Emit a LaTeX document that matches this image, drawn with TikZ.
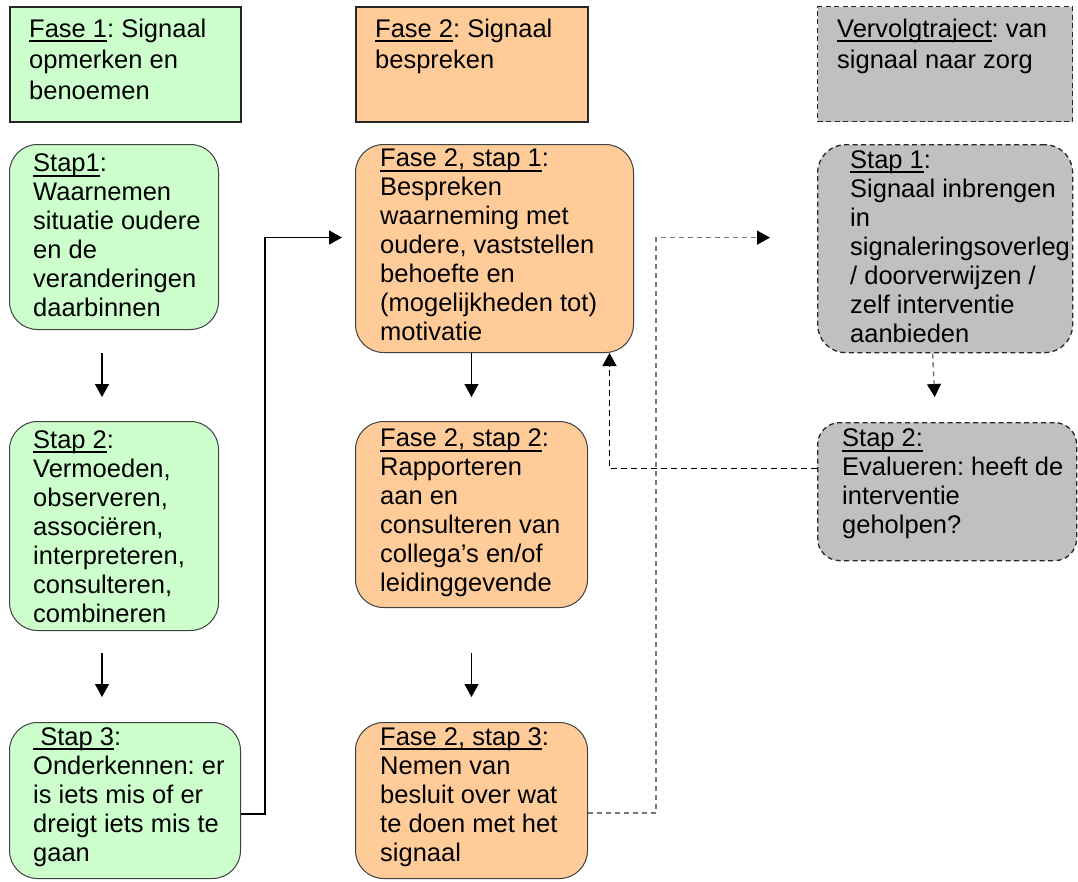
\documentclass[tikz,border=0pt]{standalone}
\usepackage{fontspec}
\setmainfont{Liberation Sans}
\usetikzlibrary{arrows.meta}
\frenchspacing
\definecolor{grn}{HTML}{CCFFCC}
\definecolor{org}{HTML}{FFCC99}
\definecolor{gry}{HTML}{C0C0C0}
\definecolor{dgry}{HTML}{777777}
\newsavebox\ulbox
\newcommand{\uline}[1]{\leavevmode\sbox\ulbox{#1}\rlap{\rule[-5pt]{\wd\ulbox}{1.6pt}}\usebox\ulbox}
\newcommand{\hdrtext}[2]{\parbox[t]{#1}{\fontsize{25.5}{31}\selectfont\raggedright\frenchspacing #2}}
\newcommand{\steptext}[2]{\parbox[t]{#1}{\fontsize{25.5}{29}\selectfont\raggedright\frenchspacing #2}}
\tikzset{
  hdr/.style={draw=black!85, line width=1.5pt, rectangle, inner sep=0pt, anchor=north west},
  stepbox/.style={draw=black!75, line width=1pt, rectangle, rounded corners=28pt, inner sep=0pt, anchor=north west},
  dbox/.style={draw=black!85, line width=1.3pt, dash pattern=on 5pt off 3.5pt},
  txt/.style={anchor=base west, inner sep=0pt, text=black},
  arr/.style={line width=1.4pt, -{Triangle[length=13pt,width=14pt]}},
  garr/.style={line width=1.4pt, draw=dgry, dash pattern=on 5pt off 4pt, -{Triangle[length=13pt,width=14pt,color=black]}},
  barr/.style={line width=1.4pt, draw=black, dash pattern=on 6pt off 4pt, -{Triangle[length=13pt,width=14pt]}}
}
\begin{document}
\begin{tikzpicture}[x=1pt,y=-1pt]
\useasboundingbox (0,0) rectangle (1078,881);
% header boxes
\node[hdr, fill=grn, minimum width=231pt, minimum height=115pt] (h1) at (9,6) {};
\node[hdr, fill=org, minimum width=232pt, minimum height=115pt] (h2) at (355,6) {};
\node[hdr, dbox, fill=gry, minimum width=255pt, minimum height=115pt] (h3) at (817,6) {};
% step boxes
\node[stepbox, fill=grn, minimum width=209pt, minimum height=185pt] (s1) at (9,144) {};
\node[stepbox, fill=grn, minimum width=209pt, minimum height=209pt] (s2) at (9,421) {};
\node[stepbox, fill=grn, minimum width=231pt, minimum height=156pt] (s3) at (9,722) {};
\node[stepbox, fill=org, minimum width=278pt, minimum height=208pt] (f1) at (355,144) {};
\node[stepbox, fill=org, minimum width=232pt, minimum height=186pt] (f2) at (355,421) {};
\node[stepbox, fill=org, minimum width=232pt, minimum height=156pt] (f3) at (355,722) {};
\node[stepbox, dbox, fill=gry, minimum width=255pt, minimum height=208pt] (v1) at (817,144) {};
\node[stepbox, dbox, fill=gry, rounded corners=22pt, minimum width=259pt, minimum height=138pt] (v2) at (817,422) {};
% texts
\node[txt] (h1t) at (29,37) {\hdrtext{205pt}{\uline{Fase 1}: Signaal\\opmerken en\\benoemen}};
\node[txt] (h2t) at (375,37) {\hdrtext{205pt}{\uline{Fase 2}: Signaal\\bespreken}};
\node[txt] (h3t) at (837,37) {\hdrtext{232pt}{\uline{Vervolgtraject}: van\\signaal naar zorg}};
\node[txt] (s1t) at (33,171.5) {\steptext{183pt}{\uline{Stap1}:\\Waarnemen\\situatie oudere\\en de\\veranderingen\\daarbinnen}};
\node[txt] (s2t) at (33,448) {\steptext{183pt}{\uline{Stap 2}:\\Vermoeden,\\observeren,\\associëren,\\interpreteren,\\consulteren,\\combineren}};
\node[txt] (s3t) at (33,745) {\steptext{205pt}{\uline{\ Stap 3}:\\Onderkennen: er\\is iets mis of er\\dreigt iets mis te\\gaan}};
\node[txt] (f1t) at (380,166.5) {\steptext{250pt}{\uline{Fase 2, stap 1}:\\Bespreken\\waarneming met\\oudere, vaststellen\\behoefte en\\(mogelijkheden tot)\\motivatie}};
\node[txt] (f2t) at (380,446.5) {\steptext{205pt}{\uline{Fase 2, stap 2}:\\Rapporteren\\aan en\\consulteren van\\collega’s en/of\\leidinggevende}};
\node[txt] (f3t) at (380,745) {\steptext{205pt}{\uline{Fase 2, stap 3}:\\Nemen van\\besluit over wat\\te doen met het\\signaal}};
\node[txt] (v1t) at (850,168) {\steptext{224pt}{\uline{Stap 1}:\\Signaal inbrengen\\in\\signaleringsoverleg\\/ doorverwijzen /\\zelf interventie\\aanbieden}};
\node[txt] (v2t) at (842,446.5) {\steptext{234pt}{\uline{Stap 2:}\\Evalueren: heeft de\\interventie\\geholpen?}};
% connectors
\draw[arr] ([xshift=93pt,yshift=-23pt]s1.south west) -- ([xshift=93pt,yshift=24pt]s2.north west);
\draw[arr] ([xshift=93pt,yshift=-22pt]s2.south west) -- ([xshift=93pt,yshift=25pt]s3.north west);
\draw[arr] ([yshift=-13.5pt]s3.east) -- ++(24,0) |- ([xshift=-13pt,yshift=11pt]f1.west);
\draw[arr] (f1.south -| f2.north) -- ([yshift=24pt]f2.north);
\draw[arr] ([yshift=-45pt]f2.south) -- ([yshift=25pt]f3.north);
\draw[garr] ([yshift=-12.5pt]f3.east) -- ++(68,0) |- ([xshift=-47pt,yshift=11pt]v1.west);
\draw[garr] ([xshift=-12.5pt]v1.south) -- ([xshift=-12.5pt,yshift=25pt]v2.north);
\draw[barr] ([yshift=23pt]v2.west) -| ([xshift=115pt]f1.south);
\end{tikzpicture}
\end{document}
